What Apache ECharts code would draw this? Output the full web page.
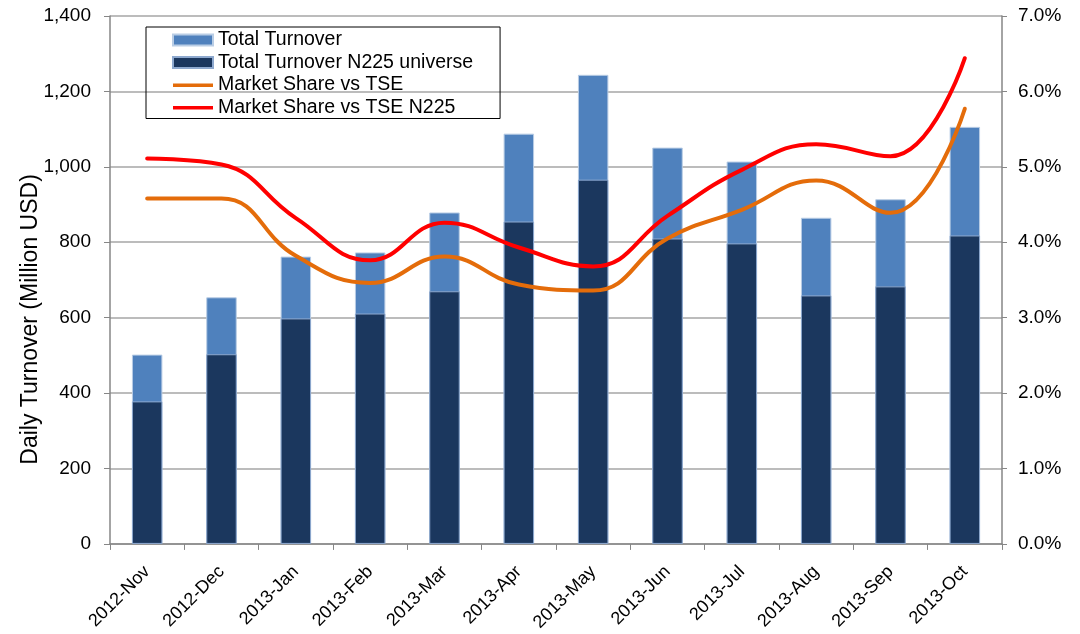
<!DOCTYPE html>
<html>
<head>
<meta charset="utf-8">
<script src="https://cdn.jsdelivr.net/npm/echarts@6/dist/echarts.min.js"></script>
<style>
  html, body { margin: 0; padding: 0; background: #fff; }
  #chart { width: 1080px; height: 634px; }
</style>
</head>
<body>
<div id="chart"></div>
<script>
const months = ['2012-Nov', '2012-Dec', '2013-Jan', '2013-Feb', '2013-Mar', '2013-Apr',
  '2013-May', '2013-Jun', '2013-Jul', '2013-Aug', '2013-Sep', '2013-Oct'];
const totalTurnover = [502, 654, 762, 773, 879, 1088, 1244, 1051, 1014, 865, 914, 1106];
const n225Turnover = [378, 503, 598, 611, 670, 855, 966, 810, 797, 659, 683, 818];
const shareTSE = [4.58, 4.58, 3.82, 3.46, 3.81, 3.44, 3.36, 4.05, 4.43, 4.82, 4.39, 5.77];
const shareN225 = [5.11, 5.03, 4.32, 3.76, 4.26, 3.93, 3.68, 4.35, 4.96, 5.30, 5.14, 6.44];

// flat line icon for the legend (the empty moves keep the 40x11 box)
const lineIcon = 'path://M0,0L0,0M40,11L40,11M0,4L40,4L40,7.5L0,7.5Z';

const chart = echarts.init(document.getElementById('chart'));
chart.setOption({
  animation: false,
  textStyle: { fontFamily: 'Liberation Sans, Arial, sans-serif', color: '#000' },
  grid: { left: 110, right: 78, top: 16, bottom: 89 },
  legend: {
    orient: 'vertical',
    left: 146,
    top: 27,
    padding: [3, 27, 1, 26],
    itemGap: 2.5,
    itemWidth: 40,
    itemHeight: 11,
    borderColor: '#000',
    borderWidth: 1,
    textStyle: { fontSize: 19.5, color: '#000' },
    data: [
      { name: 'Total Turnover', icon: 'rect' },
      { name: 'Total Turnover N225 universe', icon: 'rect' },
      { name: 'Market Share vs TSE', icon: lineIcon },
      { name: 'Market Share vs TSE N225', icon: lineIcon }
    ]
  },
  xAxis: {
    type: 'category',
    data: months,
    axisLine: { lineStyle: { color: '#868686', width: 1.5 } },
    axisTick: { show: true, length: 6, lineStyle: { color: '#868686' } },
    axisLabel: { rotate: 45, fontSize: 18, color: '#000', margin: 25 }
  },
  yAxis: [
    {
      type: 'value',
      min: 0,
      max: 1400,
      interval: 200,
      name: 'Daily Turnover (Million USD)',
      nameLocation: 'middle',
      nameGap: 68,
      nameMoveOverlap: false,
      nameTextStyle: { fontSize: 23, color: '#000', padding: [0, 79, 0, 0] },
      axisLine: { show: true, lineStyle: { color: '#868686', width: 1.5 } },
      axisTick: { show: true, length: 6, lineStyle: { color: '#868686' } },
      axisLabel: {
        fontSize: 19,
        color: '#000',
        margin: 19,
        formatter: v => v.toLocaleString('en-US')
      },
      splitLine: { lineStyle: { color: '#A6A6A6', width: 1.5 } }
    },
    {
      type: 'value',
      min: 0,
      max: 7,
      interval: 1,
      position: 'right',
      axisLine: { show: true, lineStyle: { color: '#868686', width: 1.5 } },
      axisTick: { show: true, length: 5, lineStyle: { color: '#868686' } },
      axisLabel: {
        fontSize: 19,
        color: '#000',
        margin: 16,
        formatter: v => v.toFixed(1) + '%'
      },
      splitLine: { show: false }
    }
  ],
  series: [
    {
      name: 'Total Turnover',
      type: 'bar',
      data: totalTurnover,
      barWidth: '41%',
      itemStyle: { color: '#4F81BD', borderColor: '#B9CDE5', borderWidth: 1 }
    },
    {
      name: 'Total Turnover N225 universe',
      type: 'bar',
      data: n225Turnover,
      barWidth: '41%',
      barGap: '-100%',
      itemStyle: { color: '#1B375E', borderColor: '#8EA9CF', borderWidth: 1 }
    },
    {
      name: 'Market Share vs TSE',
      type: 'line',
      yAxisIndex: 1,
      data: shareTSE,
      smooth: 0.45,
      symbol: 'none',
      lineStyle: { color: '#E46C0A', width: 4, cap: 'round' },
      itemStyle: { color: '#E46C0A' }
    },
    {
      name: 'Market Share vs TSE N225',
      type: 'line',
      yAxisIndex: 1,
      data: shareN225,
      smooth: 0.45,
      symbol: 'none',
      lineStyle: { color: '#FF0000', width: 4, cap: 'round' },
      itemStyle: { color: '#FF0000' }
    }
  ]
});
</script>
</body>
</html>
